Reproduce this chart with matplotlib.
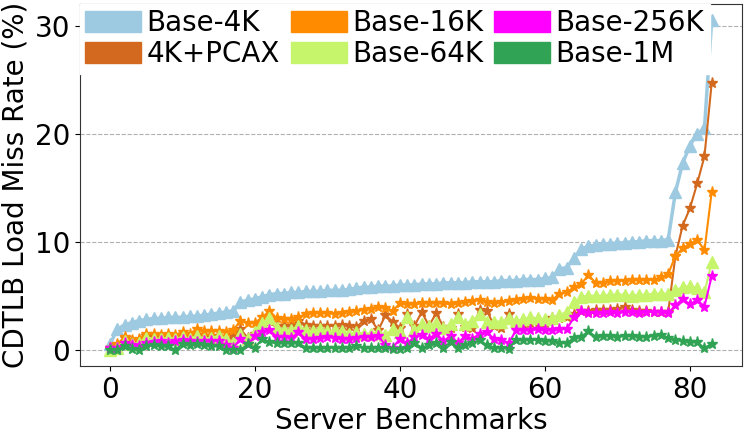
import matplotlib
matplotlib.use("Agg")
import matplotlib.pyplot as plt
from matplotlib.patches import Patch
import numpy as np

base_4k = [0.5, 1.9, 2.3, 2.5, 2.7, 2.8, 2.9, 2.9, 3.0, 3.0, 3.0, 3.1, 3.1, 3.2, 3.3, 3.4, 3.5, 3.6,
           4.4, 4.6, 4.7, 4.9, 5.1, 5.2, 5.2, 5.3, 5.3, 5.4, 5.4, 5.4, 5.5, 5.5, 5.5, 5.6, 5.7, 5.8,
           5.8, 5.9, 5.9, 5.9, 6.0, 6.0, 6.0, 6.1, 6.1, 6.1, 6.2, 6.2, 6.2, 6.2, 6.3, 6.3, 6.3, 6.3,
           6.4, 6.4, 6.4, 6.5, 6.5, 6.5, 6.6, 6.7, 7.5, 7.6, 8.5, 9.3, 9.6, 9.7, 9.8, 9.8, 9.9, 9.9,
           10.0, 10.0, 10.1, 10.1, 10.1, 10.2, 14.6, 17.3, 18.9, 20.0, 20.5, 30.5]
pcax_4k = [0.2, 0.4, 1.1, 0.8, 0.9, 1.3, 1.2, 1.2, 1.2, 1.1, 1.3, 1.2, 1.4, 1.3, 1.3, 1.2, 0.7, 1.4,
           1.9, 1.1, 1.5, 2.2, 2.7, 2.2, 2.2, 2.2, 2.7, 2.3, 2.2, 2.2, 2.2, 2.2, 2.3, 2.2, 2.1, 2.7,
           2.8, 1.8, 3.2, 2.6, 2.0, 3.3, 2.2, 3.5, 2.2, 3.4, 2.1, 2.0, 3.3, 2.1, 2.0, 3.7, 3.6, 2.2,
           2.0, 3.3, 2.4, 2.4, 2.5, 2.4, 2.5, 2.9, 2.9, 3.0, 3.3, 3.6, 3.6, 3.7, 3.7, 3.7, 3.8, 4.0,
           3.7, 3.6, 3.6, 3.5, 3.5, 3.5, 8.7, 11.5, 13.1, 15.4, 17.9, 24.7]
base_16k = [0.2, 0.5, 1.2, 0.9, 1.0, 1.5, 1.5, 1.4, 1.5, 1.4, 1.6, 1.5, 1.9, 1.7, 1.7, 1.7, 1.6, 1.8,
            2.7, 2.5, 2.5, 3.0, 3.6, 2.9, 2.8, 2.8, 3.0, 3.3, 3.4, 3.4, 3.4, 3.3, 3.4, 3.5, 3.6, 3.7,
            3.8, 4.0, 3.9, 3.6, 4.3, 4.2, 4.2, 4.3, 4.3, 4.3, 4.3, 4.2, 4.3, 4.4, 4.5, 4.6, 4.4, 4.3,
            4.4, 4.5, 4.6, 4.7, 4.8, 4.7, 4.7, 4.6, 5.2, 5.3, 5.8, 6.1, 6.9, 6.2, 6.2, 6.4, 6.4, 6.4,
            6.5, 6.5, 6.5, 6.5, 6.7, 7.0, 8.7, 9.4, 9.8, 10.2, 9.2, 14.6]
base_64k = [0.0, 0.2, 0.8, 0.5, 0.6, 1.1, 1.0, 1.0, 1.1, 1.0, 1.2, 1.0, 1.3, 1.0, 1.1, 1.3, 1.0, 0.6,
            1.5, 1.0, 1.6, 2.5, 2.9, 2.0, 1.8, 1.8, 2.2, 1.8, 1.7, 1.9, 1.7, 1.8, 1.7, 1.5, 1.6, 1.5,
            1.5, 1.6, 1.4, 1.9, 1.6, 3.0, 1.8, 2.4, 2.2, 2.5, 2.0, 2.4, 3.0, 2.4, 2.7, 3.3, 2.6, 2.6,
            2.6, 2.9, 2.7, 2.8, 3.0, 2.9, 2.8, 2.9, 3.2, 3.5, 4.4, 4.9, 5.0, 5.0, 5.0, 5.1, 5.1, 5.1,
            5.0, 5.1, 5.1, 5.2, 5.2, 5.2, 5.5, 5.8, 5.9, 5.7, 5.3, 8.1]
base_256k = [0.2, 0.2, 0.6, 0.4, 0.3, 0.6, 0.7, 0.8, 0.6, 0.8, 0.9, 0.8, 0.7, 0.8, 0.8, 0.8, 0.4, 0.2,
             1.0, 0.5, 1.3, 1.6, 1.8, 1.2, 1.2, 1.1, 1.6, 1.0, 1.0, 1.1, 1.2, 1.1, 1.0, 1.0, 1.1, 1.2,
             1.2, 1.3, 0.4, 0.2, 1.0, 0.6, 1.2, 1.4, 1.0, 1.5, 0.8, 1.3, 0.6, 1.3, 1.0, 1.5, 1.6, 1.0,
             0.9, 0.6, 1.8, 1.8, 1.8, 1.9, 1.8, 1.8, 1.9, 1.9, 3.0, 3.6, 3.4, 3.4, 3.4, 3.5, 3.4, 3.5,
             3.5, 3.4, 3.5, 3.5, 3.5, 3.4, 4.1, 4.7, 4.2, 4.6, 4.0, 6.8]
base_1m = [0.0, 0.0, 0.3, 0.1, 0.0, 0.3, 0.4, 0.3, 0.3, 0.0, 0.5, 0.4, 0.5, 0.4, 0.3, 0.3, 0.0, 0.0,
           0.0, 0.5, 0.2, 1.0, 0.7, 0.6, 0.6, 0.6, 0.6, 0.2, 0.2, 0.2, 0.2, 0.2, 0.2, 0.2, 0.3, 0.2,
           0.2, 0.2, 0.2, 0.1, 0.1, 0.2, 0.6, 0.2, 0.4, 0.6, 0.2, 0.7, 0.2, 0.4, 0.6, 0.9, 0.4, 0.2,
           0.2, 0.1, 0.9, 0.9, 0.9, 0.9, 0.8, 0.8, 0.6, 0.6, 1.1, 1.2, 1.7, 1.2, 1.3, 1.3, 1.2, 1.3,
           1.3, 1.2, 1.2, 1.3, 1.4, 1.1, 0.9, 0.8, 0.7, 0.7, 0.15, 0.55]

labels = ["Base-4K", "4K+PCAX", "Base-16K", "Base-64K", "Base-256K", "Base-1M"]
colors = ["#9ecae1", "#d2691e", "#ff8c00", "#c6f56c", "#ff00ff", "#31a354"]
markers = ["^", "*", "*", "^", "*", "*"]
series = [base_4k, pcax_4k, base_16k, base_64k, base_256k, base_1m]

fig = plt.figure(figsize=(7.47, 4.38), dpi=100)
ax = fig.add_axes([0.107, 0.164, 0.886, 0.827])
x = np.arange(len(base_4k))
for s, c, m, lab in zip(series, colors, markers, labels):
    lw = 2.5 if lab == "Base-4K" else 1.5
    ms = 8 if m == "^" else 8
    ax.plot(x, s, color=c, marker=m, markersize=ms, linewidth=lw, label=lab)

ax.set_yticks([0, 10, 20, 30])
ax.set_xticks([0, 20, 40, 60, 80])
ax.tick_params(labelsize=20)
ax.grid(axis="y", linestyle="--", color="#b0b0b0", linewidth=0.8)
ax.set_axisbelow(True)
ax.set_xlabel("Server Benchmarks", fontsize=20, labelpad=2)
ax.set_ylabel("CDTLB Load Miss Rate (%)", fontsize=20, labelpad=4)
for sp in ax.spines.values():
    sp.set_color("#333333")

handles = [Patch(facecolor=c, edgecolor=c) for c in colors]
ax.legend(handles, labels, ncol=3, loc="upper left", bbox_to_anchor=(0, 1),
          borderaxespad=0.0, fontsize=20, handlelength=2.0, handleheight=0.8,
          handletextpad=0.2, columnspacing=0.4, labelspacing=0.1, borderpad=0.2,
          frameon=True, fancybox=False, edgecolor="white", framealpha=1.0)

fig.savefig("out.png", dpi=100)
